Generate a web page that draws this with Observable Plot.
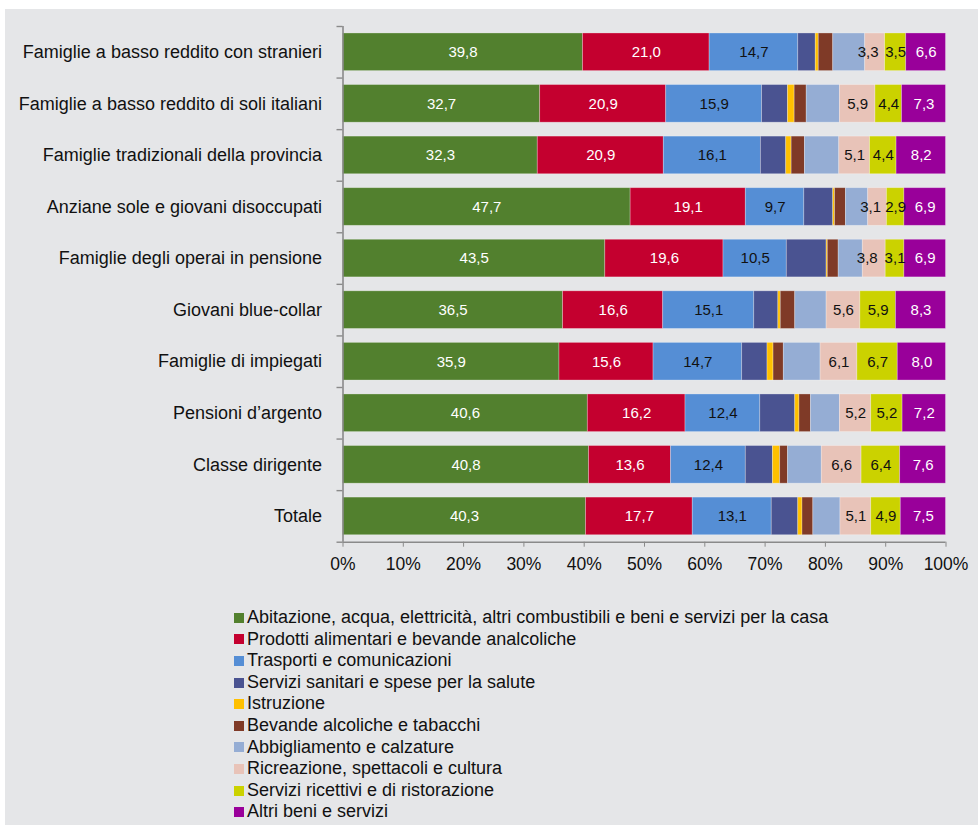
<!DOCTYPE html>
<html><head><meta charset="utf-8">
<script src="https://cdn.jsdelivr.net/npm/d3@7"></script>
<script src="https://cdn.jsdelivr.net/npm/@observablehq/plot@0.6"></script>
<style>
body{margin:0;background:#fff;font-family:"Liberation Sans",Arial,sans-serif;}
#wrap{position:absolute;left:5px;top:9px;width:973px;height:816px;background:#e5e6e8;overflow:hidden;}
#chart{position:absolute;left:0;top:0;}
#legend{position:absolute;left:229px;top:598px;font-size:18px;line-height:21.6px;color:#111;}
.item{display:flex;align-items:center;white-space:nowrap;height:21.6px;}
.sw{width:10px;height:10px;margin-right:3px;flex:none;}
</style></head>
<body><div id="wrap"><div id="chart"></div><div id="legend"></div></div>
<script>
const categories = [
  "Famiglie a basso reddito con stranieri",
  "Famiglie a basso reddito di soli italiani",
  "Famiglie tradizionali della provincia",
  "Anziane sole e giovani disoccupati",
  "Famiglie degli operai in pensione",
  "Giovani blue-collar",
  "Famiglie di impiegati",
  "Pensioni d\u2019argento",
  "Classe dirigente",
  "Totale"
];
const seriesNames = [
  "Abitazione, acqua, elettricità, altri combustibili e beni e servizi per la casa",
  "Prodotti alimentari e bevande analcoliche",
  "Trasporti e comunicazioni",
  "Servizi sanitari e spese per la salute",
  "Istruzione",
  "Bevande alcoliche e tabacchi",
  "Abbigliamento e calzature",
  "Ricreazione, spettacoli e cultura",
  "Servizi ricettivi e di ristorazione",
  "Altri beni e servizi"
];
const colors = ["#52802e","#c4002f","#558ed5","#4a5391","#ffc000","#7f3a27","#95add4","#e8c3b8","#cbd200","#99009a"];
const tickValues = [0,0.1,0.2,0.3,0.4,0.5,0.6,0.7,0.8,0.9,1];

const abitazione    = [39.8, 32.7, 32.3, 47.7, 43.5, 36.5, 35.9, 40.6, 40.8, 40.3];
const alimentari    = [21.0, 20.9, 20.9, 19.1, 19.6, 16.6, 15.6, 16.2, 13.6, 17.7];
const trasporti     = [14.7, 15.9, 16.1,  9.7, 10.5, 15.1, 14.7, 12.4, 12.4, 13.1];
const sanitari      = [ 2.9,  4.3,  4.2,  4.8,  6.6,  4.0,  4.2,  5.8,  4.5,  4.4];
const istruzione    = [ 0.5,  1.1,  0.9,  0.3,  0.2,  0.4,  1.0,  0.7,  1.2,  0.7];
const alcoliche     = [ 2.4,  2.0,  2.2,  1.8,  1.8,  2.4,  1.7,  1.9,  1.3,  1.8];
const abbigliamento = [ 5.3,  5.5,  5.7,  3.7,  4.0,  5.2,  6.1,  4.8,  5.6,  4.5];
const ricreazione   = [ 3.3,  5.9,  5.1,  3.1,  3.8,  5.6,  6.1,  5.2,  6.6,  5.1];
const ristorazione  = [ 3.5,  4.4,  4.4,  2.9,  3.1,  5.9,  6.7,  5.2,  6.4,  4.9];
const altri         = [ 6.6,  7.3,  8.2,  6.9,  6.9,  8.3,  8.0,  7.2,  7.6,  7.5];

const seriesValues = [abitazione, alimentari, trasporti, sanitari, istruzione, alcoliche, abbigliamento, ricreazione, ristorazione, altri];
const labeledWhite = [0, 1, 9];
const labeledDark = [2, 8];
const pinkIndex = 7;

const data = [];
categories.forEach((c, i) => {
  seriesValues.forEach((arr, s) => {
    data.push({category: c, series: seriesNames[s], si: s, value: arr[i]});
  });
});

const fmt = v => v.toFixed(1).replace(".", ",");

const W = 973, H = 580;
const mL = 337.5, mR = 32.5, mT = 17, mB = 47.3;
const step = (H - mT - mB) / categories.length;
const tickLen = 6 / (W - mL - mR);

const stackOpts = extra => Plot.stackX({offset: "normalize", x: "value", y: "category", z: "series", ...extra});

const chart = Plot.plot({
  width: W,
  height: H,
  marginLeft: mL,
  marginRight: mR,
  marginTop: mT,
  marginBottom: mB,
  style: {background: "transparent", fontFamily: "'Liberation Sans', Arial, sans-serif", color: "#111"},
  x: {domain: [0, 1], label: null},
  y: {domain: categories, paddingInner: 0.27, paddingOuter: 0.135, round: false, label: null},
  color: {domain: seriesNames, range: colors},
  marks: [
    Plot.barX(data, stackOpts({fill: "series", stroke: "#ffffff", strokeOpacity: 0.35, strokeWidth: 0.8})),
    Plot.text(data, stackOpts({text: d => labeledWhite.includes(d.si) ? fmt(d.value) : "", fill: "#ffffff", fontSize: 15})),
    Plot.text(data, stackOpts({text: d => labeledDark.includes(d.si) ? fmt(d.value) : "", fill: "#111111", fontSize: 15})),
    Plot.text(data, stackOpts({text: d => d.si === pinkIndex && d.value >= 4.5 ? fmt(d.value) : "", fill: "#111111", fontSize: 15})),
    Plot.text(data, stackOpts({text: d => d.si === pinkIndex && d.value < 4.5 ? fmt(d.value) : "", fill: "#111111", fontSize: 15, dx: -7})),
    Plot.ruleX([0], {stroke: "#8a8a8a", strokeWidth: 1.6}),
    Plot.ruleY([categories[categories.length - 1]], {x1: 0, x2: 1, dy: step / 2, stroke: "#8a8a8a", strokeWidth: 1.6}),
    Plot.ruleY(categories, {x1: -tickLen, x2: 0, dy: -step / 2, stroke: "#8a8a8a", strokeWidth: 1.4}),
    Plot.ruleY([categories[categories.length - 1]], {x1: -tickLen, x2: 0, dy: step / 2, stroke: "#8a8a8a", strokeWidth: 1.4}),
    Plot.axisY({tickSize: 0, tickPadding: 21, fontSize: 18, label: null, color: "#111"}),
    Plot.axisX({ticks: tickValues, tickFormat: d3.format(".0%"), tickSize: 5, tickPadding: 10, fontSize: 17.5, label: null, stroke: "#8a8a8a", color: "#111"})
  ]
});
document.getElementById("chart").appendChild(chart);

const legend = document.getElementById("legend");
seriesNames.forEach((name, i) => {
  const item = document.createElement("div");
  item.className = "item";
  const sw = document.createElement("span");
  sw.className = "sw";
  sw.style.background = colors[i];
  const tx = document.createElement("span");
  tx.textContent = name;
  item.appendChild(sw);
  item.appendChild(tx);
  legend.appendChild(item);
});
</script>
</body></html>
